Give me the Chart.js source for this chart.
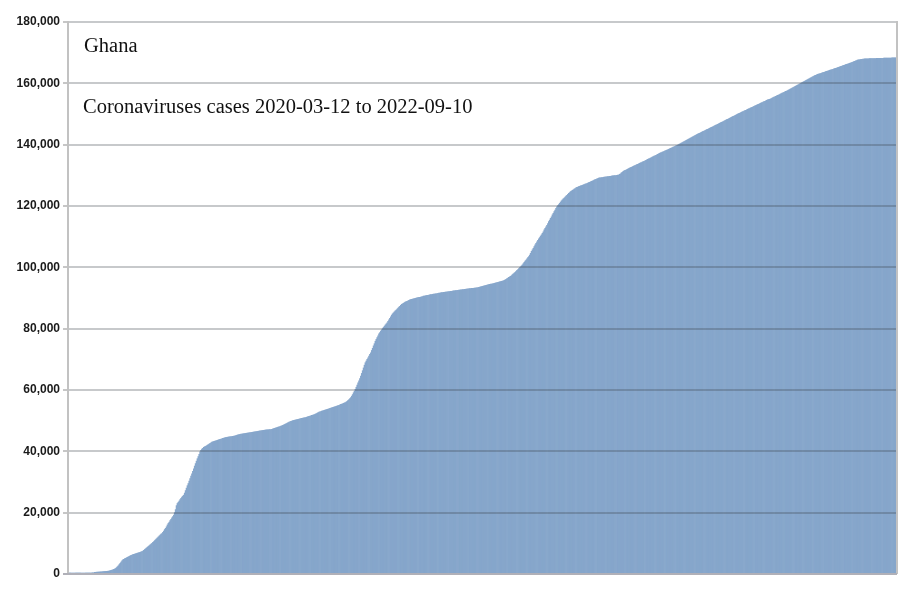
<!DOCTYPE html>
<html>
<head>
<meta charset="utf-8">
<script src="https://cdn.jsdelivr.net/npm/chart.js@4"></script>
<style>
  html, body { margin: 0; padding: 0; background: #ffffff; }
  #wrap { width: 913px; height: 597px; position: relative; }
</style>
</head>
<body>
<div id="wrap"><canvas id="c" width="913" height="597"></canvas></div>
<script>
const titleCountry = 'Ghana';
const titleText = 'Coronaviruses cases 2020-03-12 to 2022-09-10';
const startDate = '2020-03-12';
const yTicks = [0, 20000, 40000, 60000, 80000, 100000, 120000, 140000, 160000, 180000];

// cumulative cases, one value per day from 2020-03-12 to 2022-09-10
const cases = [
2,2,6,6,6,7,16,19,21,24,
27,53,68,132,137,141,152,152,161,195,
204,205,214,214,287,313,378,378,408,566,
566,600,620,636,650,680,700,730,760,790,
820,850,880,900,930,1000,1100,1200,1300,1400,
1550,1650,1800,2100,2400,2700,3100,3500,3900,4300,
4600,4800,5000,5100,5300,5450,5600,5750,5900,6050,
6200,6300,6400,6500,6600,6700,6800,6900,7000,7100,
7200,7300,7500,7750,8000,8250,8500,8750,9000,9250,
9500,9750,10000,10300,10600,10900,11200,11500,11800,12100,
12400,12700,13000,13200,13600,14000,14500,14900,15400,16000,
16500,16900,17400,17800,18300,18700,19200,20000,21000,22300,
23000,23400,23800,24300,24700,25100,25400,25700,26400,27200,
28000,28800,29500,30300,31100,31900,32700,33500,34300,35200,
36000,36800,37600,38300,39000,39800,40300,40700,41000,41300,
41500,41600,41800,42000,42200,42400,42600,42800,43000,43100,
43200,43300,43400,43500,43600,43700,43800,43900,44000,44100,
44200,44300,44400,44500,44550,44600,44650,44700,44750,44800,
44850,44900,44950,45000,45100,45200,45300,45400,45500,45550,
45600,45650,45700,45750,45800,45850,45900,45950,46000,46050,
46100,46150,46200,46250,46300,46350,46400,46450,46500,46550,
46600,46650,46700,46750,46800,46850,46900,46950,47000,47020,
47040,47060,47080,47100,47200,47300,47400,47500,47600,47700,
47800,47900,48000,48100,48200,48300,48450,48600,48750,48900,
49050,49200,49350,49500,49650,49800,49900,50000,50080,50150,
50220,50300,50380,50450,50520,50600,50680,50750,50820,50900,
50950,51000,51100,51200,51300,51400,51500,51600,51700,51800,
51900,52000,52150,52300,52450,52600,52800,52900,53000,53100,
53200,53300,53400,53500,53600,53700,53800,53900,54000,54100,
54200,54300,54400,54500,54600,54700,54800,54900,55000,55150,
55300,55400,55500,55650,55800,55900,56100,56300,56600,56900,
57200,57500,58000,58500,59100,59600,60200,60900,61600,62300,
63000,63700,64500,65400,66300,67200,68100,68900,69450,70000,
70500,71050,71600,72100,72900,73600,74400,75100,75900,76500,
77100,77700,78300,78700,79200,79600,80000,80400,80800,81200,
81550,81900,82400,82900,83400,83900,84400,84800,85200,85500,
85800,86100,86400,86700,87000,87300,87600,87900,88100,88300,
88500,88650,88800,88950,89100,89250,89400,89500,89580,89660,
89740,89820,89900,89970,90040,90110,90180,90250,90320,90400,
90500,90600,90660,90720,90780,90840,90900,90960,91020,91080,
91140,91200,91250,91300,91350,91400,91460,91520,91580,91640,
91700,91740,91780,91820,91860,91900,91940,91980,92020,92060,
92100,92150,92200,92250,92300,92350,92400,92450,92500,92540,
92580,92620,92660,92700,92740,92780,92820,92860,92900,92940,
92980,93020,93060,93100,93130,93160,93190,93220,93250,93280,
93300,93380,93460,93540,93620,93700,93780,93860,93940,94020,
94100,94180,94260,94340,94420,94500,94550,94600,94680,94760,
94840,94920,95000,95080,95160,95240,95320,95400,95500,95600,
95750,95900,96100,96300,96500,96700,96900,97100,97350,97600,
97850,98100,98400,98700,99000,99300,99600,99900,100200,100500,
100800,101200,101600,102000,102400,102800,103200,103500,104000,104600,
105200,105700,106200,106800,107300,107800,108300,108800,109300,109700,
110200,110600,111100,111600,112200,112700,113200,113700,114300,114900,
115400,116000,116500,117100,117600,118200,118700,119200,119700,120100,
120500,120900,121300,121700,122000,122300,122600,122900,123200,123500,
123800,124100,124400,124700,124900,125100,125300,125500,125700,125900,
126050,126200,126300,126420,126540,126660,126780,126900,127020,127140,
127250,127350,127480,127600,127740,127880,128020,128160,128300,128440,
128580,128720,128860,128980,129100,129150,129200,129250,129300,129350,
129400,129450,129500,129540,129580,129620,129660,129700,129750,129800,
129840,129880,129920,129960,130000,130050,130100,130300,130500,130800,
131000,131300,131450,131600,131750,131900,132050,132200,132350,132500,
132640,132780,132920,133060,133200,133340,133480,133620,133760,133900,
134040,134180,134320,134460,134600,134750,134900,135050,135200,135350,
135500,135650,135800,135950,136100,136250,136400,136550,136700,136850,
137000,137150,137300,137430,137560,137690,137820,137950,138080,138210,
138350,138490,138630,138770,138910,139050,139190,139330,139470,139610,
139740,139870,140000,140165,140330,140495,140660,140825,140990,141155,
141320,141485,141650,141815,141980,142145,142310,142475,142640,142805,
142970,143135,143300,143445,143590,143735,143880,144025,144170,144315,
144460,144605,144750,144895,145040,145185,145330,145475,145620,145765,
145910,146055,146200,146350,146500,146650,146800,146950,147100,147250,
147400,147550,147700,147850,148000,148150,148300,148450,148600,148750,
148900,149050,149200,149350,149500,149650,149800,149950,150100,150250,
150390,150530,150670,150810,150950,151090,151230,151370,151510,151650,
151790,151930,152070,152210,152350,152490,152630,152770,152910,153050,
153190,153330,153470,153610,153750,153890,154030,154170,154310,154450,
154590,154730,154820,154900,155045,155190,155335,155480,155625,155770,
155915,156060,156205,156350,156495,156640,156785,156930,157075,157220,
157365,157510,157655,157800,157945,158100,158265,158430,158595,158760,
158925,159090,159255,159420,159585,159750,159915,160080,160245,160410,
160600,160760,160920,161080,161240,161400,161560,161720,161880,162040,
162190,162340,162490,162640,162800,162900,163000,163100,163200,163300,
163400,163500,163600,163700,163800,163900,164000,164100,164200,164300,
164400,164500,164600,164700,164800,164900,165000,165110,165220,165330,
165440,165550,165660,165770,165880,165990,166100,166200,166300,166400,
166500,166600,166720,166840,166960,167080,167200,167330,167460,167580,
167650,167700,167750,167800,167840,167880,167920,167960,168000,168010,
168020,168030,168040,168050,168060,168070,168080,168090,168100,168110,
168120,168130,168140,168150,168160,168170,168180,168190,168200,168210,
168220,168230,168240,168250,168260,168270,168275,168280,168285,168290,
168295,168300,168300
];

// day labels (categories)
const dates = [];
{
  const d0 = new Date(startDate + 'T00:00:00Z');
  for (let i = 0; i < cases.length; i++) {
    const d = new Date(d0.getTime() + i * 86400000);
    dates.push(d.toISOString().slice(0, 10));
  }
}

const fmt = v => v.toLocaleString('en-US');

const overlay = {
  id: 'overlay',
  afterDatasetsDraw(chart) {
    const { ctx, chartArea, scales } = chart;
    const y = scales.y;
    ctx.save();
    // horizontal grid lines drawn over the bars
    ctx.strokeStyle = 'rgba(55,60,70,0.28)';
    ctx.lineWidth = 2;
    yTicks.forEach(v => {
      if (v === 0) return;
      const py = Math.round(y.getPixelForValue(v));
      ctx.beginPath();
      ctx.moveTo(chartArea.left, py);
      ctx.lineTo(chartArea.right, py);
      ctx.stroke();
    });
    // frame lines (left, right, bottom)
    ctx.strokeStyle = '#c2c2c2';
    ctx.lineWidth = 2;
    ctx.beginPath();
    ctx.moveTo(chartArea.left, chartArea.top - 1);
    ctx.lineTo(chartArea.left, chartArea.bottom);
    ctx.moveTo(chartArea.right, chartArea.top - 1);
    ctx.lineTo(chartArea.right, chartArea.bottom);
    ctx.stroke();
    ctx.strokeStyle = '#b0b0b8';
    ctx.beginPath();
    ctx.moveTo(chartArea.left - 5, chartArea.bottom);
    ctx.lineTo(chartArea.right, chartArea.bottom);
    ctx.stroke();
    // titles inside plot area
    ctx.fillStyle = '#111111';
    ctx.textAlign = 'left';
    ctx.textBaseline = 'alphabetic';
    ctx.font = '20.5px "Liberation Serif", "DejaVu Serif", serif';
    ctx.fillText(titleCountry, chartArea.left + 16, 51.5);
    ctx.fillText(titleText, chartArea.left + 15, 113);
    ctx.restore();
  }
};

new Chart(document.getElementById('c'), {
  type: 'bar',
  data: {
    labels: dates,
    datasets: [{
      label: 'Cases',
      data: cases,
      backgroundColor: '#86a6cb',
      borderWidth: 0,
      barPercentage: 1.0,
      categoryPercentage: 1.0
    }]
  },
  options: {
    responsive: false,
    animation: false,
    devicePixelRatio: 1,
    layout: { padding: { left: 0, right: 16, top: 22, bottom: 23 } },
    plugins: {
      legend: { display: false },
      tooltip: { enabled: false },
      title: { display: false }
    },
    scales: {
      x: {
        ticks: { display: false },
        grid: { display: false },
        border: { display: false },
        afterFit(scale) { scale.height = 0; }
      },
      y: {
        min: 0,
        max: 180000,
        afterFit(scale) { scale.width = 68; },
        afterBuildTicks(scale) { scale.ticks = yTicks.map(v => ({ value: v })); },
        ticks: {
          callback: v => fmt(v),
          color: '#1a1a1a',
          font: { family: '"Liberation Sans", Arial, sans-serif', size: 12, weight: 'bold' },
          padding: 3
        },
        grid: {
          color: 'rgba(0,0,0,0)',
          tickColor: '#c6c6c6',
          lineWidth: 2,
          tickLength: 5,
          drawTicks: true
        },
        border: { display: false }
      }
    }
  },
  plugins: [overlay]
});
</script>
</body>
</html>
